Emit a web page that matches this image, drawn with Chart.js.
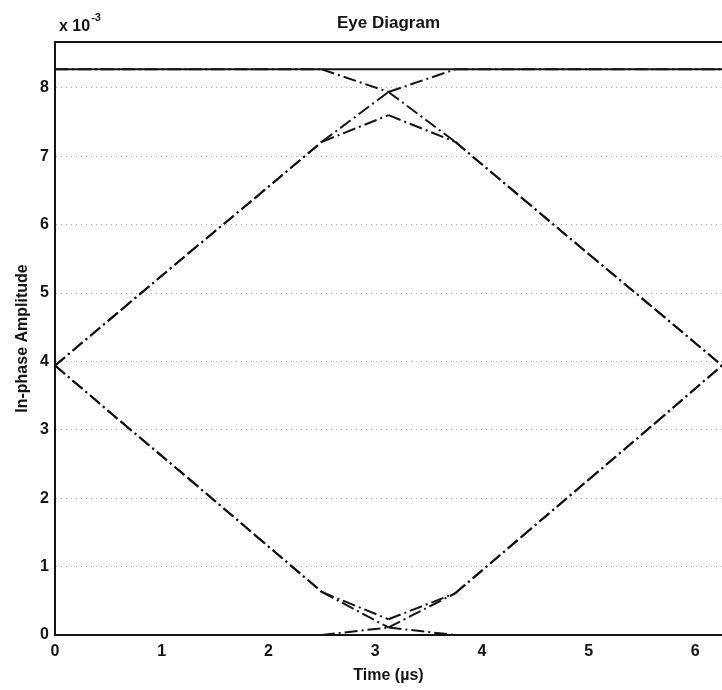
<!DOCTYPE html>
<html>
<head>
<meta charset="utf-8">
<title>Eye Diagram</title>
<script src="https://cdn.jsdelivr.net/npm/chart.js@4.4.1/dist/chart.umd.min.js"></script>
<style>
  html, body { margin: 0; padding: 0; background: #fff; }
</style>
</head>
<body>
<canvas id="eyeChart" width="722" height="690"></canvas>
<script>
// sample instants across two symbol periods (µs)
const times = [0, 0.625, 1.25, 1.875, 2.5, 3.125, 3.75, 4.375, 5.0, 5.625, 6.25];

// in-phase amplitude of each trace, in units of 1e-3
const highHold = [8.27, 8.27, 8.27, 8.27, 8.27, 8.27, 8.27, 8.27, 8.27, 8.27, 8.27];
const highFall = [8.27, 8.27, 8.27, 8.27, 8.27, 7.94, 7.21, 6.39, 5.57, 4.76, 3.94];
const riseHold = [3.94, 4.76, 5.58, 6.39, 7.21, 7.94, 8.27, 8.27, 8.27, 8.27, 8.27];
const risePeak = [3.94, 4.76, 5.58, 6.39, 7.21, 7.60, 7.21, 6.39, 5.57, 4.76, 3.94];
const lowHold  = [0, 0, 0, 0, 0, 0, 0, 0, 0, 0, 0];
const lowRise  = [0, 0, 0, 0, 0, 0.11, 0.61, 1.44, 2.27, 3.10, 3.94];
const fallHold = [3.94, 3.11, 2.29, 1.46, 0.63, 0.11, 0, 0, 0, 0, 0];
const fallDip  = [3.94, 3.11, 2.29, 1.46, 0.63, 0.23, 0.61, 1.44, 2.27, 3.10, 3.94];

const xTicks = [0, 1, 2, 3, 4, 5, 6];
const yTicks = [0, 1, 2, 3, 4, 5, 6, 7, 8];

const INK = "#141414";
const FONT = "'Liberation Sans', Arial, Helvetica, sans-serif";

Chart.defaults.font.family = FONT;
Chart.defaults.font.weight = "bold";
Chart.defaults.color = INK;

function trace(values, dashed) {
  return {
    data: values.map((v, i) => ({ x: times[i], y: v })),
    borderColor: INK,
    borderWidth: 2,
    pointRadius: 0,
    tension: 0,
    borderDash: dashed ? [13, 4, 2, 4] : [],
    // restart the dash pattern on every segment so overlapping traces line up
    segment: dashed ? { borderDashOffset: c => (c.p0DataIndex % 2) * 0.001 } : undefined,
  };
}

// "x 10^-3" multiplier above the y axis
const exponentLabel = {
  id: "exponentLabel",
  afterDraw(chart) {
    const ctx = chart.ctx;
    ctx.save();
    ctx.fillStyle = INK;
    ctx.textBaseline = "alphabetic";
    ctx.font = "bold 16px " + FONT;
    ctx.fillText("x 10", 59, 31);
    const w = ctx.measureText("x 10").width;
    ctx.font = "bold 11px " + FONT;
    ctx.fillText("-3", 59 + w + 1, 21);
    ctx.restore();
  },
};

new Chart(document.getElementById("eyeChart"), {
  type: "line",
  data: {
    datasets: [
      trace(highHold, false),
      trace(lowHold, false),
      trace(highFall, true),
      trace(riseHold, true),
      trace(risePeak, true),
      trace(lowRise, true),
      trace(fallHold, true),
      trace(fallDip, true),
    ],
  },
  options: {
    responsive: false,
    animation: false,
    layout: { padding: 0 },
    plugins: {
      legend: { display: false },
      tooltip: { enabled: false },
      title: { display: false },
    },
    scales: {
      x: {
        type: "linear",
        position: "bottom",
        min: 0,
        max: 6.25,
        afterFit: s => { s.height = 55; },
        afterBuildTicks: s => { s.ticks = xTicks.map(v => ({ value: v })); },
        ticks: { font: { size: 16, weight: "bold" }, padding: 7, maxRotation: 0, autoSkip: false },
        grid: { display: false, drawTicks: false },
        border: { display: true, color: INK, width: 2 },
        title: {
          display: true,
          text: "Time (µs)",
          font: { size: 16, weight: "bold" },
          padding: { top: 0, bottom: 5 },
        },
      },
      xTop: {
        type: "linear",
        position: "top",
        min: 0,
        max: 6.25,
        afterFit: s => { s.height = 42; },
        ticks: { display: false },
        grid: { display: false, drawTicks: false },
        border: { display: true, color: INK, width: 2 },
        title: {
          display: true,
          text: "Eye Diagram",
          font: { size: 17, weight: "bold" },
          padding: { top: 13, bottom: 0 },
        },
      },
      y: {
        type: "linear",
        position: "left",
        min: 0,
        max: 8.67,
        afterFit: s => { s.width = 55; },
        afterBuildTicks: s => { s.ticks = yTicks.map(v => ({ value: v })); },
        ticks: { font: { size: 16, weight: "bold" }, padding: 6 },
        grid: { color: "rgba(0,0,0,0.35)", lineWidth: 1, drawTicks: false },
        border: { display: true, color: INK, width: 2, dash: [1, 4] },
        title: {
          display: true,
          text: "In-phase Amplitude",
          font: { size: 16, weight: "bold" },
          padding: { top: 13, bottom: 0 },
        },
      },
    },
  },
  plugins: [exponentLabel],
});
</script>
</body>
</html>
